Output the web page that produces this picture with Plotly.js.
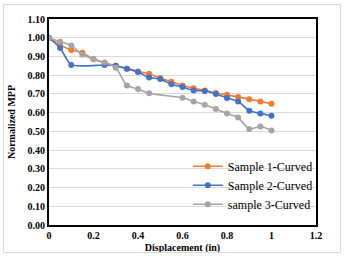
<!DOCTYPE html>
<html>
<head>
<meta charset="utf-8">
<script src="https://cdn.plot.ly/plotly-3.0.1.min.js"></script>
<style>
  html, body { margin: 0; padding: 0; background: #fff; }
  #wrap { position: relative; width: 344px; height: 256px; }
  #chart { width: 344px; height: 256px; }
  #frame { position: absolute; left: 3px; top: 4px; width: 336px; height: 247px;
           border: 1px solid #d9d9d9; pointer-events: none; }
</style>
</head>
<body>
<div id="wrap">
  <div id="chart"></div>
  <div id="frame"></div>
</div>
<script>
// Displacement steps (in) for each sample
const dispS1 = [0, 0.05, 0.1, 0.15, 0.2, 0.25, 0.3, 0.35, 0.4, 0.45, 0.5, 0.55, 0.6, 0.65, 0.7, 0.75, 0.8, 0.85, 0.9, 0.95, 1.0];
const dispS2 = [0, 0.05, 0.1, 0.25, 0.3, 0.35, 0.4, 0.45, 0.5, 0.55, 0.6, 0.65, 0.7, 0.75, 0.8, 0.85, 0.9, 0.95, 1.0];
const dispS3 = [0, 0.05, 0.1, 0.15, 0.2, 0.25, 0.3, 0.35, 0.4, 0.45, 0.6, 0.65, 0.7, 0.75, 0.8, 0.85, 0.9, 0.95, 1.0];

// Normalized MPP values
const mppS1 = [1.00, 0.962, 0.934, 0.920, 0.885, 0.866, 0.850, 0.835, 0.820, 0.808, 0.785, 0.765, 0.745, 0.730, 0.718, 0.705, 0.695, 0.683, 0.672, 0.660, 0.647];
const mppS2 = [1.00, 0.945, 0.855, 0.854, 0.850, 0.835, 0.817, 0.788, 0.779, 0.752, 0.737, 0.718, 0.716, 0.700, 0.678, 0.660, 0.610, 0.596, 0.583];
const mppS3 = [1.00, 0.979, 0.959, 0.909, 0.886, 0.868, 0.840, 0.745, 0.726, 0.703, 0.679, 0.660, 0.642, 0.620, 0.596, 0.574, 0.512, 0.526, 0.505];

const seriesNames = ['Sample 1-Curved', 'Sample 2-Curved', 'sample 3-Curved'];
const seriesColors = ['#ED7D31', '#4472C4', '#A5A5A5'];

const xTicks = [0, 0.2, 0.4, 0.6, 0.8, 1, 1.2];
const xTickText = ['0', '0.2', '0.4', '0.6', '0.8', '1', '1.2'];

const serif = 'Liberation Serif';

function makeTrace(x, y, i) {
  return {
    x: x, y: y, name: seriesNames[i], type: 'scatter', mode: 'lines+markers',
    line: { color: seriesColors[i], width: 1.6, shape: 'spline', smoothing: 0.6 },
    marker: { color: seriesColors[i], size: 6, symbol: 'circle' }
  };
}

const data = [
  makeTrace(dispS1, mppS1, 0),
  makeTrace(dispS2, mppS2, 1),
  makeTrace(dispS3, mppS3, 2)
];

const layout = {
  width: 344, height: 256,
  margin: { l: 49, r: 28, t: 19, b: 31 },
  paper_bgcolor: '#fff', plot_bgcolor: '#fff',
  font: { family: serif, color: '#000' },
  showlegend: true,
  legend: {
    x: 0.52, xanchor: 'left', y: 0.03, yanchor: 'bottom',
    bgcolor: 'rgba(0,0,0,0)',
    font: { family: serif, size: 12, color: '#000' },
    tracegroupgap: 0
  },
  xaxis: {
    range: [0, 1.2], tickvals: xTicks, ticktext: xTickText,
    showgrid: false, zeroline: false,
    showline: true, mirror: true, linecolor: '#000', linewidth: 2,
    ticks: '', fixedrange: true,
    tickfont: { family: serif, size: 10, color: '#000', weight: 'bold' },
    title: { text: 'Displacement (in)', font: { family: serif, size: 10, color: '#000', weight: 'bold' }, standoff: 4 }
  },
  yaxis: {
    range: [0, 1.1], dtick: 0.1, tickformat: '.2f',
    showgrid: true, gridcolor: '#d9d9d9', gridwidth: 1,
    zeroline: false,
    showline: true, mirror: true, linecolor: '#000', linewidth: 2,
    ticks: '', fixedrange: true,
    tickfont: { family: serif, size: 10, color: '#000', weight: 'bold' },
    title: { text: 'Normalized MPP', font: { family: serif, size: 10, color: '#000', weight: 'bold' }, standoff: 10 }
  }
};

Plotly.newPlot('chart', data, layout, { displayModeBar: false, staticPlot: true });
</script>
</body>
</html>
